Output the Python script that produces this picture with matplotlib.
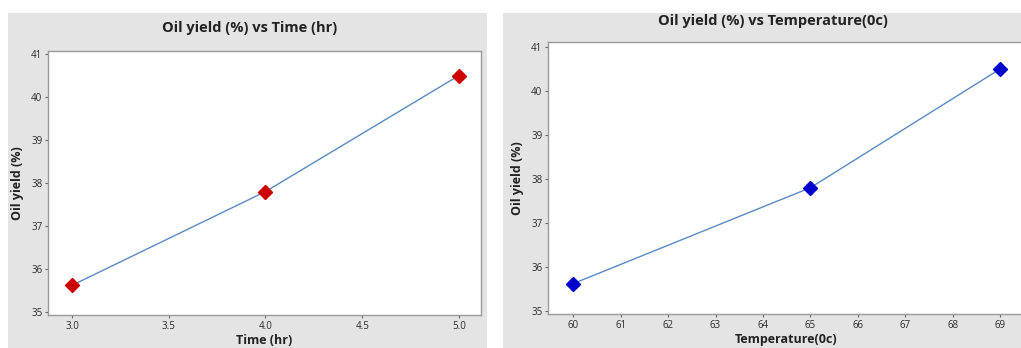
import matplotlib.pyplot as plt
from matplotlib.patches import Rectangle

# data
time_hr = [3.0, 4.0, 5.0]
temp_c = [60, 65, 69]
yield_time = [35.62, 37.80, 40.50]
yield_temp = [35.62, 37.80, 40.50]

time_ticks = [3.0, 3.5, 4.0, 4.5, 5.0]
temp_ticks = list(range(60, 70))
yield_ticks = [35, 36, 37, 38, 39, 40, 41]

W, H = 1021, 348
plt.rcParams['font.family'] = ['Open Sans', 'DejaVu Sans']

fig = plt.figure(figsize=(W / 100, H / 100), dpi=100)
fig.patch.set_facecolor('white')

panel_bg = '#e4e4e4'
line_col = '#5a8ac2'


def px(x0, y0, x1, y1):
    # pixel box (top-left origin) -> figure fraction rect
    return [x0 / W, 1 - y1 / H, (x1 - x0) / W, (y1 - y0) / H]


# gray panel backgrounds
for x0, x1 in [(8, 487), (503, 1030)]:
    fig.patches.append(Rectangle((x0 / W, 0), (x1 - x0) / W, 1 - 13 / H,
                                 transform=fig.transFigure, facecolor=panel_bg,
                                 edgecolor='none', zorder=-5))


def style(ax):
    ax.set_zorder(2)
    ax.set_facecolor('white')
    for s in ax.spines.values():
        s.set_color('#9a9a9a')
        s.set_linewidth(1.0)
    ax.tick_params(labelsize=7, length=2, color='#666666', labelcolor='#2a2a2a', pad=2)
    ax.set_yticks(yield_ticks)


ax1 = fig.add_axes(px(48, 51, 481, 315))
ax1.plot(time_hr, yield_time, color=line_col, lw=1.0, zorder=2)
ax1.plot(time_hr, yield_time, ls='none', marker='D', ms=7, color='#cc0000', zorder=3)
ax1.set_xlim(2.876, 5.114)
ax1.set_ylim(34.93, 41.07)
ax1.set_xticks(time_ticks)
ax1.set_xticklabels([f'{t:.1f}' for t in time_ticks])
style(ax1)
ax1.set_ylabel('Oil yield (%)', fontsize=9, fontweight='bold', color='#222222', labelpad=5)
ax1.set_xlabel('Time (hr)', fontsize=9, fontweight='bold', color='#222222', labelpad=2)
fig.text(250 / W, 1 - 28 / H, 'Oil yield (%) vs Time (hr)', ha='center', va='center',
         fontsize=10.5, fontweight='bold', color='#222222')

ax2 = fig.add_axes(px(548, 42, 1025, 314))
ax2.plot(temp_c, yield_temp, color=line_col, lw=1.0, zorder=2)
ax2.plot(temp_c, yield_temp, ls='none', marker='D', ms=7, color='#0000cc', zorder=3)
ax2.set_xlim(59.47, 69.52)
ax2.set_ylim(34.93, 41.11)
ax2.set_xticks(temp_ticks)
style(ax2)
ax2.set_ylabel('Oil yield (%)', fontsize=9, fontweight='bold', color='#222222', labelpad=5)
ax2.set_xlabel('Temperature(0c)', fontsize=9, fontweight='bold', color='#222222', labelpad=2)
fig.text(773 / W, 1 - 21 / H, 'Oil yield (%) vs Temperature(0c)', ha='center', va='center',
         fontsize=10.5, fontweight='bold', color='#222222')

plt.savefig('out.png', dpi=100)
